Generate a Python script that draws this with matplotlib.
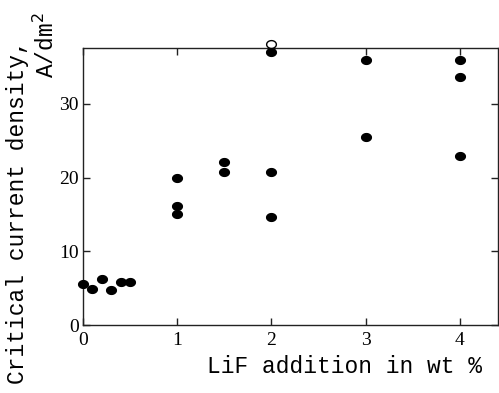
import matplotlib
matplotlib.use("Agg")
import matplotlib.pyplot as plt
import numpy as np
from matplotlib.path import Path

# Data
lif_filled = [0.0, 0.1, 0.2, 0.3, 0.4, 0.5,
              1.0, 1.0, 1.0,
              1.5, 1.5,
              2.0, 2.0, 2.0,
              3.0, 3.0,
              4.0, 4.0, 4.0]
ccd_filled = [5.5, 4.9, 6.2, 4.8, 5.9, 5.9,
              20.0, 16.2, 15.1,
              22.1, 20.7,
              37.1, 20.7, 14.7,
              36.0, 25.5,
              36.0, 33.6, 22.9]
lif_open = [2.0]
ccd_open = [38.1]

x_ticks = [0, 1, 2, 3, 4]
y_ticks = [0, 10, 20, 30]

# slightly flattened ellipse marker
t = np.linspace(0, 2 * np.pi, 40)
ell = Path(np.column_stack([np.cos(t), 0.8 * np.sin(t)]), closed=True)

fig = plt.figure(figsize=(4.99, 3.93), dpi=100)
ax = fig.add_axes([0.166, 0.173, 0.831, 0.705])

ax.plot(lif_filled, ccd_filled, linestyle='none', marker=ell, color='black',
        markersize=7, clip_on=False, zorder=3)
ax.plot(lif_open, ccd_open, linestyle='none', marker=ell, markerfacecolor='white',
        markeredgecolor='black', markersize=7, markeredgewidth=1, clip_on=False, zorder=4)

ax.set_xlim(0, 4.4)
ax.set_ylim(0, 37.6)
ax.set_xticks(x_ticks)
ax.set_yticks(y_ticks)
ax.set_xticklabels([str(v) for v in x_ticks], family='Liberation Serif', fontsize=14)
ax.set_yticklabels([str(v) for v in y_ticks], family='Liberation Serif', fontsize=14)
ax.tick_params(direction='in', length=5, width=1, top=True, right=True, color='#222222')
ax.tick_params(axis='x', pad=5)
ax.tick_params(axis='y', pad=3)
for s in ax.spines.values():
    s.set_linewidth(1.0)
    s.set_color('#222222')

fig.text(0.69, 0.068, 'LiF addition in wt %', family='Liberation Mono', fontsize=16.5,
         ha='center', va='center')
fig.text(0.036, 0.46, 'Critical current density,', family='Liberation Mono', fontsize=16.5,
         rotation=90, ha='center', va='center')
fig.text(0.092, 0.885, 'A/dm$^2$', family='Liberation Mono', fontsize=16.5,
         rotation=90, ha='center', va='center')

fig.savefig('out.png', dpi=100)
